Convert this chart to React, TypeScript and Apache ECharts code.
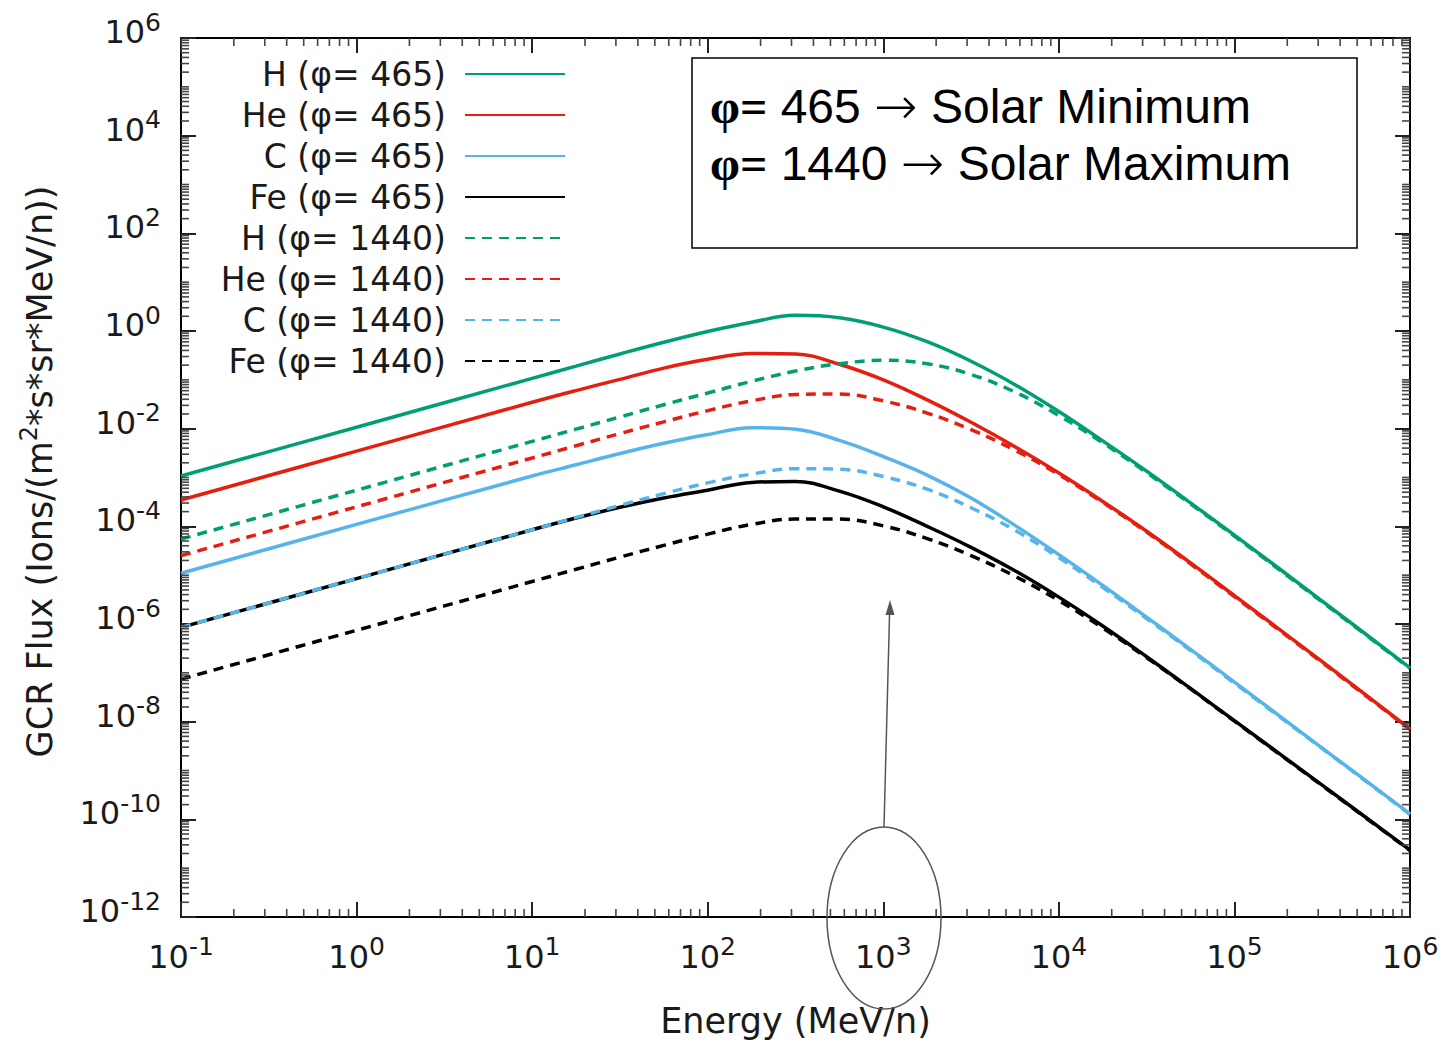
import React, { useEffect, useRef } from "react";
import * as echarts from "echarts";

// log10 of energy (MeV/n) at the sampled points
const logEnergy = [-1, 0, 1, 1.25, 1.5, 1.75, 2, 2.25, 2.5, 2.75, 3, 3.25, 3.5, 3.75, 4, 4.25, 4.5, 4.75, 5, 5.5, 6];

// log10 of GCR flux
const logH465 = [-2.97, -1.97, -0.97, -0.72, -0.47, -0.23, -0.01, 0.18, 0.32, 0.27, 0.08, -0.22, -0.62, -1.1, -1.65, -2.25, -2.87, -3.52, -4.18, -5.53, -6.9];
const logHe465 = [-3.46, -2.46, -1.46, -1.22, -0.99, -0.76, -0.58, -0.46, -0.47, -0.68, -1.0, -1.41, -1.87, -2.37, -2.91, -3.49, -4.1, -4.75, -5.42, -6.77, -8.15];
const logC465 = [-4.96, -3.96, -2.97, -2.74, -2.51, -2.3, -2.12, -1.98, -2.01, -2.24, -2.57, -2.95, -3.42, -3.98, -4.58, -5.21, -5.86, -6.52, -7.19, -8.54, -9.89];
const logFe465 = [-6.07, -5.07, -4.07, -3.83, -3.61, -3.42, -3.26, -3.1, -3.08, -3.28, -3.6, -4.0, -4.43, -4.91, -5.45, -6.04, -6.67, -7.32, -7.98, -9.3, -10.63];
const logH1440 = [-4.26, -3.26, -2.26, -2.01, -1.76, -1.51, -1.27, -1.03, -0.82, -0.67, -0.6, -0.67, -0.89, -1.25, -1.73, -2.29, -2.9, -3.54, -4.2, -5.55, -6.91];
const logHe1440 = [-4.6, -3.6, -2.6, -2.35, -2.1, -1.86, -1.63, -1.43, -1.3, -1.29, -1.43, -1.68, -2.02, -2.44, -2.94, -3.51, -4.12, -4.77, -5.44, -6.79, -8.16];
const logC1440 = [-6.07, -5.07, -4.07, -3.82, -3.57, -3.33, -3.11, -2.93, -2.82, -2.83, -2.98, -3.24, -3.62, -4.08, -4.64, -5.25, -5.89, -6.54, -7.21, -8.55, -9.9];
const logFe1440 = [-7.13, -6.13, -5.13, -4.88, -4.63, -4.39, -4.16, -3.96, -3.85, -3.85, -3.99, -4.25, -4.6, -5.02, -5.52, -6.08, -6.69, -7.33, -7.99, -9.31, -10.64];

const seriesNames = [
  "H (φ= 465)", "He (φ= 465)", "C (φ= 465)", "Fe (φ= 465)",
  "H (φ= 1440)", "He (φ= 1440)", "C (φ= 1440)", "Fe (φ= 1440)",
];
const seriesValues = [logH465, logHe465, logC465, logFe465, logH1440, logHe1440, logC1440, logFe1440];
const seriesColors = ["#009e73", "#e51e10", "#56b4e9", "#000000", "#009e73", "#e51e10", "#56b4e9", "#000000"];
const seriesDashed = [false, false, false, false, true, true, true, true];

// axis exponent ranges
const xMinExp = -1, xMaxExp = 6;
const yMinExp = -12, yMaxExp = 6;

const FONT = "DejaVu Sans";
const INK = "#1a1a1a";

function buildMinorX(): number[] {
  const out: number[] = [];
  for (let k = xMinExp; k < xMaxExp; k++) {
    for (let m = 2; m <= 9; m++) out.push(k + Math.log10(m));
  }
  return out;
}
function buildMinorY(): number[] {
  const out: number[] = [];
  for (let k = yMinExp; k < yMaxExp; k++) {
    for (let m = 1; m <= 9; m++) {
      if (m === 1 && k % 2 === 0) continue;
      out.push(k + Math.log10(m));
    }
  }
  return out;
}

const expLabel = (v: number) => `{b|10}{s|${Math.round(v)}}`;
const labelRich = {
  b: { fontFamily: FONT, fontSize: 32, color: INK, lineHeight: 45 },
  s: { fontFamily: FONT, fontSize: 25, color: INK, verticalAlign: "top" as const },
};

const boxRich = {
  p: { fontFamily: "Liberation Serif", fontWeight: "bold", fontSize: 48, fill: "#000" },
  t: { fontFamily: "Liberation Sans", fontSize: 48, fill: "#000" },
  a: { fontFamily: "DejaVu Sans", fontSize: 52, fontWeight: 200, fill: "#000" },
};

export default function App() {
  const ref = useRef<HTMLDivElement>(null);
  useEffect(() => {
    if (!ref.current) return;
    const chart = echarts.init(ref.current, undefined, { renderer: "svg" });
    const minorLen = 8;
    const axisLine = { show: true, onZero: false, lineStyle: { color: "#000", width: 2 } };
    const majorTick = { show: true, inside: true, length: 15, lineStyle: { color: "#222", width: 2 } };
    const lineSeries = seriesNames.map((name, i) => ({
      name,
      type: "line",
      data: logEnergy.map((x, j) => [x, seriesValues[i][j]]),
      showSymbol: false,
      symbol: "none",
      smooth: 0.4,
      color: seriesColors[i],
      lineStyle: { width: 3.5, color: seriesColors[i], type: seriesDashed[i] ? [10, 7] : "solid" },
      z: 3,
    }));
    const option: any = {
      animation: false,
      backgroundColor: "#ffffff",
      grid: { left: 181, right: 35, top: 38, bottom: 128, containLabel: false, outerBoundsMode: "none" },
      legend: {
        orient: "vertical",
        align: "right",
        right: 879,
        top: 56,
        padding: 0,
        itemWidth: 100,
        itemHeight: 14,
        itemGap: 5,
        itemStyle: { opacity: 0 },
        data: seriesNames,
        textStyle: { fontFamily: FONT, fontSize: 33, color: INK, lineHeight: 36, padding: [0, 14, 0, 0] },
      },
      xAxis: [
        {
          type: "value", min: xMinExp, max: xMaxExp, interval: 1,
          name: "Energy (MeV/n)", nameLocation: "middle", nameGap: 86,
          nameTextStyle: { fontFamily: FONT, fontSize: 35, color: INK },
          axisLine, axisTick: majorTick,
          axisLabel: { formatter: expLabel, rich: labelRich, margin: 17 },
          splitLine: { show: false },
        },
        {
          type: "value", min: xMinExp, max: xMaxExp, interval: 1, position: "top",
          axisLine, axisTick: majorTick,
          axisLabel: { show: false },
          splitLine: { show: false },
        },
      ],
      yAxis: [
        {
          type: "value", min: yMinExp, max: yMaxExp, interval: 2,
          name: "{t|GCR Flux (Ions/(m}{s|2}{t|*s*sr*MeV/n))}",
          nameLocation: "middle", nameGap: 118, nameRotate: 90,
          nameTextStyle: {
            padding: [0, 0, 0, 12],
            rich: {
              t: { fontFamily: FONT, fontSize: 35, color: INK, lineHeight: 46 },
              s: { fontFamily: FONT, fontSize: 24, color: INK, verticalAlign: "top" },
            },
          },
          axisLine, axisTick: majorTick,
          axisLabel: { formatter: expLabel, rich: labelRich, margin: 20, padding: [0, 0, 12, 0] },
          splitLine: { show: false },
        },
        {
          type: "value", min: yMinExp, max: yMaxExp, interval: 2, position: "right",
          axisLine, axisTick: majorTick,
          axisLabel: { show: false },
          splitLine: { show: false },
        },
      ],
      series: [
        {
          name: "xMinorTicks",
          type: "custom",
          silent: true,
          z: 4,
          clip: false,
          data: buildMinorX().map((v) => [v, yMinExp]),
          renderItem: (params: any, api: any) => {
            const cs = params.coordSys;
            const x = api.coord([api.value(0), yMinExp])[0];
            const b = cs.y + cs.height;
            const t = cs.y;
            const st = { stroke: "#444", lineWidth: 1.6 };
            return {
              type: "group",
              children: [
                { type: "line", shape: { x1: x, y1: b, x2: x, y2: b - minorLen }, style: st },
                { type: "line", shape: { x1: x, y1: t, x2: x, y2: t + minorLen }, style: st },
              ],
            };
          },
        },
        {
          name: "yMinorTicks",
          type: "custom",
          silent: true,
          z: 4,
          clip: false,
          data: buildMinorY().map((v) => [xMinExp, v]),
          renderItem: (params: any, api: any) => {
            const cs = params.coordSys;
            const y = api.coord([xMinExp, api.value(1)])[1];
            const l = cs.x;
            const r = cs.x + cs.width;
            const st = { stroke: "#444", lineWidth: 1.6 };
            return {
              type: "group",
              children: [
                { type: "line", shape: { x1: l, y1: y, x2: l + minorLen, y2: y }, style: st },
                { type: "line", shape: { x1: r, y1: y, x2: r - minorLen, y2: y }, style: st },
              ],
            };
          },
        },
        ...lineSeries,
      ],
      graphic: [
        {
          type: "rect", z: 20,
          shape: { x: 692, y: 58, width: 665, height: 190 },
          style: { fill: "#ffffff", stroke: "#000", lineWidth: 1.5 },
        },
        {
          type: "text", z: 21, x: 710, y: 106,
          style: { text: "{p|φ=}{t| 465 }{a|→}{t| Solar Minimum}", verticalAlign: "middle", rich: boxRich },
        },
        {
          type: "text", z: 21, x: 710, y: 163,
          style: { text: "{p|φ=}{t| 1440 }{a|→}{t| Solar Maximum}", verticalAlign: "middle", rich: boxRich },
        },
        {
          type: "ellipse", z: 21,
          shape: { cx: 884, cy: 918, rx: 57, ry: 91 },
          style: { fill: "none", stroke: "#555", lineWidth: 1.5 },
        },
        {
          type: "line", z: 21,
          shape: { x1: 884, y1: 827, x2: 889.6, y2: 612 },
          style: { stroke: "#555", lineWidth: 1.5 },
        },
        {
          type: "polygon", z: 21,
          shape: { points: [[890, 600], [885.5, 615], [894.5, 615]] },
          style: { fill: "#555" },
        },
      ],
    };
    chart.setOption(option);
    return () => chart.dispose();
  }, []);
  return (
    <div
      ref={ref}
      style={{ position: "absolute", left: 0, top: 0, width: 1445, height: 1045, background: "#fff" }}
    />
  );
}
